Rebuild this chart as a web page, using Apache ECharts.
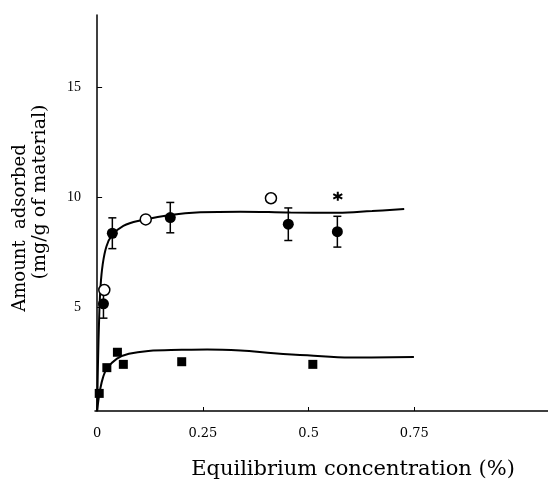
<!DOCTYPE html>
<html><head><meta charset="utf-8">
<script src="https://cdn.jsdelivr.net/npm/echarts@6/dist/echarts.min.js"></script>
<style>html,body{margin:0;padding:0;background:#fff}#c{width:548px;height:486px}</style>
</head><body><div id="c"></div>
<script>
// Data
const filledCircles = [[0.015,5.14],[0.036,8.35],[0.173,9.06],[0.452,8.76],[0.568,8.42]];
const filledErr = [0.65,0.7,0.69,0.74,0.7];
const openCircles = [[0.017,5.77],[0.115,8.98],[0.411,9.94]];
const asterisk = [[0.569,10.03]];
const squares = [[0.005,1.07],[0.023,2.24],[0.048,2.94],[0.062,2.39],[0.2,2.51],[0.51,2.39]];
const upperCurve = [[0,0.27],[0.002,2.4],[0.005,4.6],[0.008,5.9],[0.013,6.9],[0.022,7.75],[0.035,8.25],[0.062,8.68],[0.102,8.93],[0.173,9.18],[0.244,9.3],[0.339,9.33],[0.457,9.29],[0.568,9.28],[0.65,9.36],[0.726,9.45]];
const lowerCurve = [[0,0.27],[0.003,0.75],[0.007,1.23],[0.014,1.8],[0.023,2.2],[0.047,2.65],[0.075,2.87],[0.121,3.0],[0.2,3.05],[0.26,3.07],[0.339,3.02],[0.418,2.9],[0.497,2.8],[0.6,2.7],[0.749,2.72]];
const xTicks = [0,0.25,0.5,0.75];
const yTicks = [5,10,15];

const errData = filledCircles.map((p,i)=>[p[0],p[1]-filledErr[i],p[1]+filledErr[i]]);
const star = 'path://M0,-10 L0,10 M-8.66,-5 L8.66,5 M-8.66,5 L8.66,-5';

const chart = echarts.init(document.getElementById('c'));
chart.setOption({
  animation:false,
  grid:{left:95,right:0,top:15,bottom:75},
  xAxis:{type:'value',min:-0.005,max:1.066,
    axisLine:{lineStyle:{color:'#000',width:1.5}},
    axisTick:{show:true,inside:true,length:4,customValues:xTicks,lineStyle:{color:'#000'}},
    axisLabel:{customValues:xTicks,margin:16,color:'#000',fontFamily:'DejaVu Serif',fontSize:13,
      formatter:v=>v===0?'0':String(v)},
    splitLine:{show:false}},
  yAxis:{type:'value',min:0.27,max:18.27,
    axisLine:{show:true,lineStyle:{color:'#000',width:1.5}},
    axisTick:{show:true,inside:true,length:5,customValues:yTicks,lineStyle:{color:'#000'}},
    axisLabel:{customValues:yTicks,margin:14,color:'#000',fontFamily:'Liberation Serif',fontSize:14},
    splitLine:{show:false}},
  graphic:[
    {type:'text',x:20,y:228,rotation:Math.PI/2,style:{text:'Amount  adsorbed',fill:'#000',font:'18px "DejaVu Serif"',align:'center',verticalAlign:'middle'}},
    {type:'text',x:40,y:192,rotation:Math.PI/2,style:{text:'(mg/g of material)',fill:'#000',font:'19px "DejaVu Serif"',align:'center',verticalAlign:'middle'}},
    {type:'text',x:353,y:470,style:{text:'Equilibrium concentration (%)',fill:'#000',font:'21px "DejaVu Serif"',align:'center',verticalAlign:'middle'}}
  ],
  series:[
    {type:'line',data:upperCurve,smooth:0.4,showSymbol:false,lineStyle:{color:'#000',width:2}},
    {type:'line',data:lowerCurve,smooth:0.4,showSymbol:false,lineStyle:{color:'#000',width:2}},
    {type:'custom',data:errData,renderItem:(params,api)=>{
      const x=api.value(0),lo=api.coord([x,api.value(1)]),hi=api.coord([x,api.value(2)]);
      const c=4;
      return {type:'group',children:[
        {type:'line',shape:{x1:lo[0],y1:lo[1],x2:hi[0],y2:hi[1]},style:{stroke:'#000',lineWidth:1.5}},
        {type:'line',shape:{x1:lo[0]-c,y1:lo[1],x2:lo[0]+c,y2:lo[1]},style:{stroke:'#000',lineWidth:1.5}},
        {type:'line',shape:{x1:hi[0]-c,y1:hi[1],x2:hi[0]+c,y2:hi[1]},style:{stroke:'#000',lineWidth:1.5}}
      ]};
    },encode:{x:0,y:[1,2]},z:3},
    {type:'scatter',data:filledCircles,symbol:'circle',symbolSize:11,itemStyle:{color:'#000',opacity:1},z:4},
    {type:'scatter',data:openCircles,symbol:'circle',symbolSize:11,itemStyle:{color:'#fff',borderColor:'#000',borderWidth:1.5,opacity:1},z:5},
    {type:'scatter',data:squares,symbol:'rect',symbolSize:9,itemStyle:{color:'#000',opacity:1},z:4},
    {type:'scatter',data:asterisk,symbol:star,symbolSize:9,itemStyle:{color:'none',borderColor:'#000',borderWidth:2,opacity:1},z:4}
  ]
});
</script></body></html>
